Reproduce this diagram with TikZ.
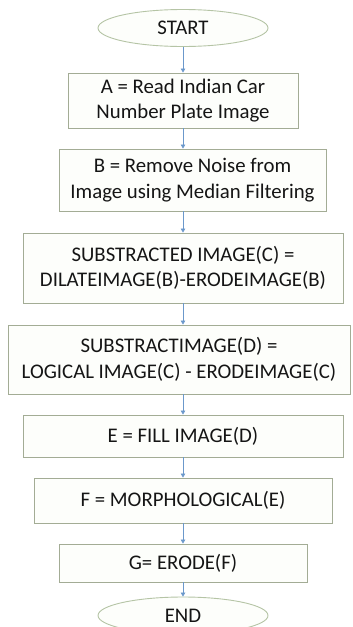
\documentclass[tikz,border=0pt]{standalone}
\usepackage{fontspec}
\setmainfont{Carlito}
\usepackage{tikz}
\usetikzlibrary{shapes.geometric, arrows.meta, calc}
\definecolor{fcBorder}{HTML}{A3AC95}
\definecolor{fcOval}{HTML}{B5C4A5}
\definecolor{fcFill}{HTML}{FDFEFB}
\definecolor{fcArrow}{HTML}{6B98CB}
\definecolor{fcText}{HTML}{151515}

\begin{document}
\begin{tikzpicture}[x=1pt, y=-1pt,
    every node/.style={text=fcText, font=\fontsize{20.8}{25.5}\selectfont, align=center, inner sep=0pt},
    procbox/.style={draw=fcBorder, fill=fcFill, line width=0.9pt, rectangle},
    terminal/.style={draw=fcOval, fill=fcFill, line width=0.9pt, ellipse,
                     minimum width=170pt, minimum height=37pt},
    flow/.style={draw=fcArrow, line width=0.8pt, -{Triangle[width=4.5pt,length=4pt]}}]
  % zakres rysunku
  \clip (0,0) rectangle (353,627);
  \fill[white] (0,0) rectangle (353,627);
  % start i koniec
  \node[terminal] (start) at (183,28) {START};
  \node[terminal] (end)   at (183,615.5) {END};
  % kroki przetwarzania
  \node[procbox, minimum width=230pt, minimum height=55pt] (a) at (183,100.5)
    {A = Read Indian Car\\Number Plate Image};
  \node[procbox, minimum width=267pt, minimum height=62pt] (b) at (192.5,180)
    {B = Remove Noise from\\Image using Median Filtering};
  \node[procbox, minimum width=320pt, minimum height=70pt] (c) at (183,268)
    {SUBSTRACTED IMAGE(C) =\\DILATEIMAGE(B)-ERODEIMAGE(B)};
  \node[procbox, minimum width=342pt, minimum height=69pt] (d) at (179,359.5)
    {SUBSTRACTIMAGE(D) =\\LOGICAL IMAGE(C) - ERODEIMAGE(C)};
  \node[procbox, minimum width=320pt, minimum height=42pt] (e) at (183,436)
    {E = FILL IMAGE(D)};
  \node[procbox, minimum width=298pt, minimum height=45pt] (f) at (183,500.5)
    {F = MORPHOLOGICAL(E)};
  \node[procbox, minimum width=248pt, minimum height=38pt] (g) at (183,563)
    {G= ERODE(F)};
  % strzałki — wszystkie na osi x=183
  \coordinate (axis) at (183,0);
  \draw[flow] (start.south) -- (a.north);
  \draw[flow] (a.south) -- (axis |- b.north);
  \draw[flow] (axis |- b.south) -- (c.north);
  \draw[flow] (c.south) -- (axis |- d.north);
  \draw[flow] (axis |- d.south) -- (e.north);
  \draw[flow] (e.south) -- (f.north);
  \draw[flow] (f.south) -- (g.north);
  \draw[flow] (g.south) -- (end.north);
\end{tikzpicture}
\end{document}
